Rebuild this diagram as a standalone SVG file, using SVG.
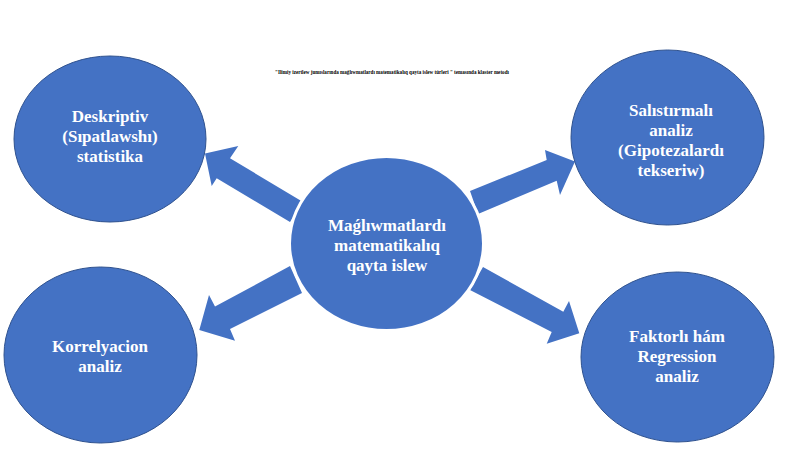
<svg xmlns="http://www.w3.org/2000/svg" width="800" height="449" viewBox="0 0 800 449">
<style>
.node{fill:#4472C4;stroke:#2F528F;stroke-width:1}
.arrow{fill:#4472C4;stroke:none}
.lbl{font-family:"Liberation Serif","DejaVu Serif",serif;font-weight:bold;font-size:17px;fill:#FFFFFF;text-anchor:middle}
.title{font-family:"Liberation Serif","DejaVu Serif",serif;font-weight:bold;font-size:5.1px;fill:#000000;text-anchor:middle}
</style>
<rect width="800" height="449" fill="#FFFFFF"/>
<text class="title" x="392" y="73.5">"Ilimiy izertlew jumıslarında maǵlıwmatlardı matematikalıq qayta islew túrleri " temasında klaster metodı</text>
<g id="connectors">
<polygon class="arrow" points="303,202 230,158.3 238.3,146 205,153.5 211.7,186 216.7,178.3 290,222"/>
<polygon class="arrow" points="470,191 546.7,160 545,150 575,161.5 560,195 556.7,180.8 478,214"/>
<polygon class="arrow" points="290,266 215,306.6 209,295 199.3,330 235,340.7 230,329 302,293"/>
<polygon class="arrow" points="483,267 563.3,311.7 569,301 579.3,333.3 546.7,343.7 551.7,332 470,290"/>
</g>
<g id="node-center">
<ellipse cx="386.5" cy="243.5" rx="97" ry="87" fill="#4472C4" stroke="#FFFFFF" stroke-width="3"/>
<text class="lbl" x="387" y="231">Maǵlıwmatlardı</text>
<text class="lbl" x="387" y="251">matematikalıq</text>
<text class="lbl" x="387" y="271">qayta islew</text>
</g>
<g id="node-descriptive">
<ellipse class="node" cx="110" cy="139" rx="96" ry="83"/>
<text class="lbl" x="110" y="122">Deskriptiv</text>
<text class="lbl" x="110" y="142">(Sıpatlawshı)</text>
<text class="lbl" x="110" y="162">statistika</text>
</g>
<g id="node-comparative">
<ellipse class="node" cx="667.5" cy="137.5" rx="96.5" ry="87.5"/>
<text class="lbl" x="671" y="116">Salıstırmalı</text>
<text class="lbl" x="671" y="136">analiz</text>
<text class="lbl" x="671" y="156">(Gipotezalardı</text>
<text class="lbl" x="671" y="176">tekseriw)</text>
</g>
<g id="node-correlation">
<ellipse class="node" cx="100.5" cy="355" rx="96.5" ry="88"/>
<text class="lbl" x="100" y="352">Korrelyacion</text>
<text class="lbl" x="100" y="372">analiz</text>
</g>
<g id="node-regression">
<ellipse class="node" cx="677.5" cy="357" rx="96.5" ry="85"/>
<text class="lbl" x="677" y="342">Faktorlı hám</text>
<text class="lbl" x="677" y="362">Regression</text>
<text class="lbl" x="677" y="382">analiz</text>
</g>
</svg>
